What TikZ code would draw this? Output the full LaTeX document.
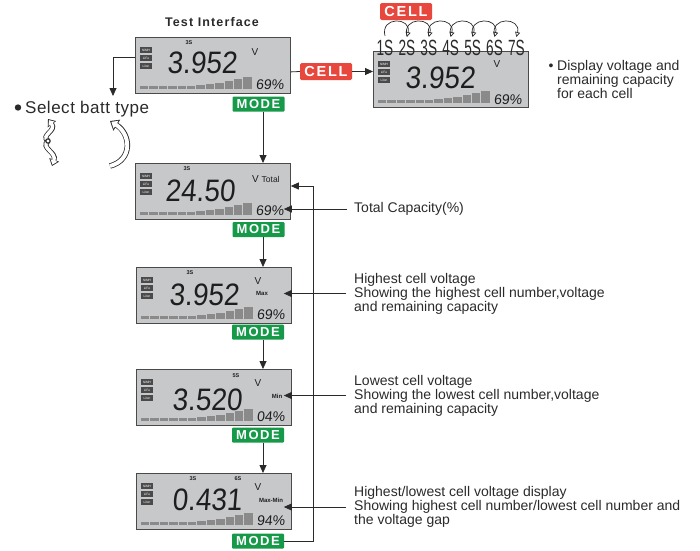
\documentclass[tikz,border=0pt]{standalone}
\usepackage{fontspec}
\setmainfont{Liberation Sans}
\newfontfamily\lcdfont[FakeSlant=0.09]{Liberation Sans}
\usetikzlibrary{arrows.meta,calc}
\definecolor{lcdgray}{HTML}{C6C8CA}
\definecolor{lcdedge}{HTML}{4A4A4A}
\definecolor{bargray}{HTML}{8A8A8A}
\definecolor{modegreen}{HTML}{17994A}
\definecolor{cellred}{HTML}{E8473D}
\definecolor{ink}{HTML}{2A2A2A}
\definecolor{digit}{HTML}{1E1E1E}
\newcommand\lcdbase[2]{%
  \begin{scope}[shift={#2}]
    \node[lcdbox] (#1) at (0,0) {};
    \node[icon] (#1-a) at (11,13) {NiMH};
    \node[icon] (#1-b) at (11,21) {LiFe};
    \node[icon] (#1-c) at (11,29) {LiIon};
    \foreach \h [count=\i from 0] in {3,3,3,3,3,3.5,4,5,6.5,8,10,12}
      \fill[bargray] (5+9.4*\i,52) rectangle ++(8.3,-\h);
  \end{scope}}
\newcommand\bigd[1]{\scalebox{0.9}[1]{#1}}
\begin{document}
\begin{tikzpicture}[x=1pt,y=-1pt,
  lcdbox/.style={draw=lcdedge, line width=0.8pt, fill=lcdgray, minimum width=155pt, minimum height=56pt, inner sep=0pt, anchor=north west},
  icon/.style={fill=lcdedge, text=white, font=\fontsize{3.2}{3.2}\selectfont, inner sep=0pt, minimum width=12pt, minimum height=5.5pt},
  bigdig/.style={font=\lcdfont\fontsize{31}{31}\selectfont, text=digit, inner sep=0pt, anchor=base west},
  pct/.style={font=\lcdfont\fontsize{14}{14}\selectfont, text=digit, inner sep=0pt, anchor=base east},
  tiny/.style={font=\bfseries\fontsize{5.5}{5.5}\selectfont, text=digit, inner sep=0pt},
  volt/.style={font=\fontsize{10}{10}\selectfont, text=digit, inner sep=0pt},
  sublbl/.style={font=\bfseries\fontsize{6}{6}\selectfont, text=digit, inner sep=0pt},
  modebox/.style={fill=modegreen, text=white, font=\bfseries\fontsize{13}{13}\selectfont\addfontfeature{LetterSpace=12}, inner sep=0pt, minimum width=52pt, minimum height=15pt, rounded corners=1pt},
  cellbox/.style={fill=cellred, text=white, font=\bfseries\fontsize{14.5}{14.5}\selectfont\addfontfeature{LetterSpace=12}, inner sep=0pt, minimum width=52pt, minimum height=17pt, rounded corners=1.5pt},
  line/.style={draw=ink, line width=0.8pt},
  flow/.style={line, -{Triangle[length=8pt,width=7pt]}},
  arc/.style={draw=ink, line width=0.7pt, -{Triangle[open,length=5pt,width=5pt]}},
  body/.style={font=\fontsize{14}{14}\selectfont, text=ink, align=left, inner sep=0pt},
]
\useasboundingbox (0,0) rectangle (700,550);

% ---------- LCD 1 (test interface)
\node[font=\bfseries\fontsize{12.5}{12.5}\selectfont\addfontfeature{LetterSpace=9}, text=ink] (title) at (212,22) {Test Interface};
\lcdbase{l1}{(135,37)}
\begin{scope}[shift={(135,37)}]
  \node[tiny] (l1-s) at (54,6) {3S};
  \node[bigdig] (l1-d) at (32,36) {\bigd{3.952}};
  \node[volt] (l1-v) at (120,15) {V};
  \node[pct] (l1-p) at (149,52) {69\%};
\end{scope}

% ---------- LCD 2 (cells)
\lcdbase{l2}{(373,51)}
\begin{scope}[shift={(373,51)}]
  \node[bigdig] (l2-d) at (32,37) {\bigd{3.952}};
  \node[volt] (l2-v) at (124,13) {V};
  \node[pct] (l2-p) at (149,53) {69\%};
\end{scope}
\foreach \i in {1,...,7}
  \node[font=\fontsize{22}{22}\selectfont, text=ink, inner sep=0pt] (s\i) at (385+21.9*\i-21.9,48) {\scalebox{0.62}[1]{\i S}};
\foreach \i [evaluate=\i as \j using int(\i+1)] in {1,...,6}
  \draw[arc] ([yshift=4pt]s\i.north) .. controls +(-5,-20) and +(5,-20) .. ([yshift=3pt]s\j.north);
\node[cellbox] (cell2) at (406,11.5) {CELL};
\node[cellbox] (cell1) at (326,71.5) {CELL};
\draw[line] ([yshift=-6.5pt]l1.east) -- (cell1.west);
\draw[flow] (cell1.east) -- (cell1.east -| l2.west);
\node[body, anchor=north west] (dsp) at (557,60) {Display voltage and\\remaining capacity\\for each cell};
\node[font=\fontsize{14}{14}\selectfont, text=ink, inner sep=0pt] (dspb) at (551,67) {•};

% ---------- select batt type
\coordinate (sbt) at (113,96);
\draw[flow] ([yshift=8pt]l1.west) -| (sbt);
\node[font=\fontsize{17}{17}\selectfont\addfontfeature{LetterSpace=3}, text=ink, inner sep=0pt, anchor=base west] (sel) at (25,113) {Select batt type};
\fill[ink] (18,107.5) circle (3.2pt);
% curly arrows
\begin{scope}[line cap=butt]
  \draw[ink, line width=5pt, -{Triangle[length=6.5pt,width=10pt]}] (48,141) .. controls (40,135) and (57,131) .. (48,119);
  \draw[white, line width=3.4pt, shorten >=1.4pt, -{Triangle[length=4.5pt,width=7pt]}] (48,141) .. controls (40,135) and (57,131) .. (48,119);
  \draw[ink, line width=5pt, -{Triangle[length=6.5pt,width=10pt]}] (48,141) .. controls (40,148) and (57,152) .. (52,166);
  \draw[white, line width=3.4pt, shorten >=1.4pt, -{Triangle[length=4.5pt,width=7pt]}] (48,141) .. controls (40,148) and (57,152) .. (52,166);
  \fill[ink] (48,141) circle (2.8pt); \fill[white] (48,141) circle (1.6pt);
  \draw[ink, line width=5.5pt, -{Triangle[length=8pt,width=12.5pt]}] (110,166) .. controls (133,160) and (131,134) .. (110,121);
  \draw[white, line width=3.9pt, shorten >=1.6pt, -{Triangle[length=5.5pt,width=9pt]}] (110,166) .. controls (133,160) and (131,134) .. (110,121);
\end{scope}

% ---------- column of modes
\coordinate (vx) at (263,0);
\node[modebox] (m1) at (258.5,104) {MODE};
\lcdbase{l3}{(135,163)}
\begin{scope}[shift={(135,163)}]
  \node[tiny] (l3-s) at (52,6) {3S};
  \node[bigdig] (l3-d) at (30,38) {\bigd{24.50}};
  \node[volt, anchor=west] (l3-v) at (117,16) {V \scalebox{0.85}{Total}};
  \node[pct] (l3-p) at (149,52) {69\%};
\end{scope}
\node[modebox] (m2) at (258.5,229.5) {MODE};

\lcdbase{l4}{(136,267)}
\begin{scope}[shift={(136,267)}]
  \node[tiny] (l4-s) at (54,6) {3S};
  \node[bigdig] (l4-d) at (33,38) {\bigd{3.952}};
  \node[volt] (l4-v) at (122,14) {V};
  \node[sublbl] (l4-x) at (126,26) {Max};
  \node[pct] (l4-p) at (149,52) {69\%};
\end{scope}
\node[modebox] (m3) at (258,332) {MODE};

\lcdbase{l5}{(136,369)}
\begin{scope}[shift={(136,369)}]
  \node[tiny] (l5-s) at (100,7) {5S};
  \node[bigdig] (l5-d) at (36,41) {\bigd{3.520}};
  \node[volt] (l5-v) at (122,14) {V};
  \node[sublbl] (l5-x) at (141,27) {Min};
  \node[pct] (l5-p) at (149,52) {04\%};
\end{scope}
\node[modebox] (m4) at (258,435) {MODE};

\lcdbase{l6}{(136,473)}
\begin{scope}[shift={(136,473)}]
  \node[tiny] (l6-s) at (57,6) {3S};
  \node[tiny] (l6-t) at (102,6) {6S};
  \node[bigdig] (l6-d) at (36,37) {\bigd{0.431}};
  \node[volt] (l6-v) at (122,14) {V};
  \node[sublbl] (l6-x) at (135,27) {Max-Min};
  \node[pct] (l6-p) at (149,52) {94\%};
\end{scope}
\node[modebox] (m5) at (258,541) {MODE};

\draw[flow] (m1.south -| vx) -- (l3.north -| vx);
\draw[flow] (m2.south -| vx) -- (l4.north -| vx);
\draw[flow] (m3.south -| vx) -- (l5.north -| vx);
\draw[flow] (m4.south -| vx) -- (l6.north -| vx);

% ---------- return line and descriptions
\coordinate (tt) at (313,186);
\draw[flow] (m5.east) -| (tt) -- (tt -| l3.east);

\node[body, anchor=west] (d1) at (354,209) {Total Capacity(\%)};
\node[body, anchor=west] (d2) at (354,293.5) {Highest cell voltage\\Showing the highest cell number,voltage\\and remaining capacity};
\node[body, anchor=west] (d3) at (354,395.5) {Lowest cell voltage\\Showing the lowest cell number,voltage\\and remaining capacity};
\node[body, anchor=west] (d4) at (354,507) {Highest/lowest cell voltage display\\Showing highest cell number/lowest cell number and\\the voltage gap};
\draw[flow] ([xshift=-7pt]d1.west) -- ([xshift=-7pt]d1.west -| l3.east);
\draw[flow] ([xshift=-8pt]d2.west) -- ([xshift=-8pt]d2.west -| l4.east);
\draw[flow] ([xshift=-8pt]d3.west) -- ([xshift=-8pt]d3.west -| l5.east);
\draw[flow] ([xshift=-8pt]d4.west) -- ([xshift=-8pt]d4.west -| l6.east);
\end{tikzpicture}
\end{document}
